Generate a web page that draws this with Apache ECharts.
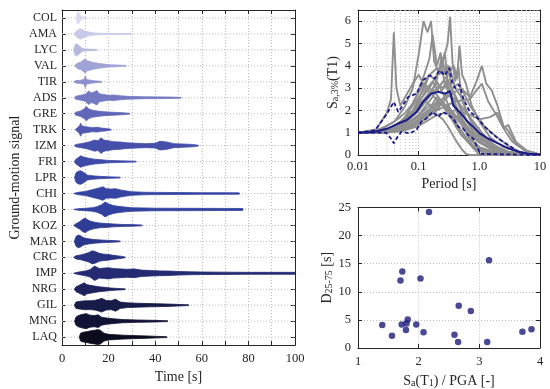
<!DOCTYPE html>
<html><head><meta charset="utf-8">
<script src="https://cdn.jsdelivr.net/npm/echarts@6/dist/echarts.min.js"></script>
<style>html,body{margin:0;padding:0;background:#fff}#c{width:550px;height:389px}</style>
</head><body><div id="c"></div>
<script>
// ---------- data ----------
const signals = ['COL','AMA','LYC','VAL','TIR','ADS','GRE','TRK','IZM','FRI','LPR','CHI','KOB','KOZ','MAR','CRC','IMP','NRG','GIL','MNG','LAQ'];
const signalColors = ['#dadaf0','#c9c9e9','#b6b8e0','#a0a3d6','#8d90cc','#7579c1','#6066b8','#5158b1','#4650ab','#3f4aa8','#3a46a6','#3544a3','#3241a0','#2f3c96','#2b378b','#283280','#242b72','#1e235e','#171b48','#111334','#0b0b1e'];
// amplitude envelopes [time s, relative amplitude]
const envCOL = [[6,0],[6.5,0.6],[7,0.8],[7.5,0.5],[8,0.3],[9,0.1],[10,0.05],[11,0]];
const envAMA = [[5,0],[6,0.3],[7,0.55],[8,0.65],[9,0.5],[10,0.35],[12,0.2],[15,0.1],[20,0.07],[29.5,0.05],[30,0]];
const envLYC = [[5,0],[5.5,0.5],[6,0.78],[7,0.6],[8,0.35],[9,0.15],[11,0.1],[15,0.05],[15.2,0]];
const envVAL = [[5.5,0],[6,0.2],[7,0.4],[8,0.45],[9,0.7],[10,0.86],[11,0.6],[12,0.55],[13,0.45],[14,0.4],[16,0.3],[18,0.22],[20,0.15],[24,0.1],[27.5,0.05],[27.7,0]];
const envTIR = [[5,0],[6,0.15],[8,0.2],[9.5,0.3],[10,0.75],[10.5,0.3],[12,0.2],[14,0.12],[17,0.05],[17.2,0]];
const envADS = [[5.3,0],[6,0.2],[8,0.3],[10,0.45],[11.5,0.85],[12.5,0.6],[14,0.75],[15,0.9],[16,0.5],[18,0.4],[20,0.3],[22,0.35],[25,0.25],[28,0.18],[35,0.12],[45,0.1],[51,0.05],[51.2,0]];
const envGRE = [[5.3,0],[6,0.2],[8,0.35],[9.5,0.6],[10.5,0.9],[11.5,0.6],[13,0.45],[15,0.35],[18,0.25],[22,0.18],[26,0.12],[29,0.05],[29.2,0]];
const envTRK = [[5.7,0],[6.5,0.2],[7.5,0.5],[8,0.82],[8.5,0.5],[9.5,0.4],[11,0.35],[13,0.25],[15,0.3],[17,0.2],[19,0.15],[21,0.05],[21.2,0]];
const envIZM = [[5.3,0],[6,0.15],[8,0.25],[10,0.35],[12,0.5],[14,0.7],[15.5,0.6],[16.7,0.98],[18,0.7],[20,0.6],[22,0.5],[25,0.45],[28,0.35],[32,0.3],[36,0.25],[40,0.3],[42,0.55],[44,0.5],[46,0.4],[48,0.25],[52,0.2],[56,0.15],[58.5,0.05],[58.7,0]];
const envFRI = [[5.3,0],[6,0.3],[7,0.5],[8,0.72],[9,0.6],[10,0.5],[12,0.4],[14,0.3],[16,0.25],[20,0.15],[25,0.1],[31.7,0.05],[31.9,0]];
const envLPR = [[5.4,0],[6,0.6],[7,0.8],[8,0.85],[9,0.7],[10,0.5],[11,0.3],[13,0.22],[16,0.15],[20,0.1],[24.9,0.05],[25.1,0]];
const envCHI = [[5,0],[7,0.15],[10,0.25],[12,0.4],[14,0.55],[16,0.7],[17.5,0.85],[19,0.6],[21,0.55],[23,0.6],[25,0.45],[27,0.35],[30,0.22],[35,0.16],[40,0.14],[50,0.12],[60,0.1],[70,0.1],[76,0.08],[76.3,0]];
const envKOB = [[5,0],[7,0.1],[10,0.15],[13,0.22],[15,0.35],[17,0.6],[18.5,0.94],[20,0.7],[22,0.5],[24,0.4],[27,0.3],[30,0.22],[40,0.16],[50,0.15],[60,0.14],[70,0.13],[77.6,0.12],[77.7,0]];
const envKOZ = [[5,0],[6,0.2],[7.5,0.45],[9,0.8],[10,0.9],[11,0.7],[12,0.55],[14,0.4],[16,0.3],[19,0.25],[22,0.18],[26,0.12],[30,0.1],[34.3,0.05],[34.5,0]];
const envMAR = [[5.3,0],[6,0.6],[7,0.8],[8,0.7],[9,0.5],[10,0.4],[12,0.3],[14,0.22],[18,0.15],[22,0.1],[24.9,0.05],[25.1,0]];
const envCRC = [[5,0],[6,0.2],[8,0.3],[10,0.45],[11.5,0.6],[13,0.82],[14.5,0.7],[16,0.5],[18,0.4],[20,0.35],[22,0.25],[25,0.15],[27,0.05],[27.2,0]];
const envIMP = [[5,0],[7,0.15],[10,0.3],[12,0.45],[14,0.9],[16,0.6],[18,0.65],[20,0.7],[22,0.6],[25,0.55],[28,0.5],[31,0.55],[34,0.4],[38,0.35],[42,0.3],[46,0.28],[50,0.22],[55,0.18],[60,0.16],[70,0.14],[80,0.12],[90,0.12],[100,0.12]];
const envNRG = [[5.3,0],[6,0.3],[7,0.45],[8.5,0.65],[9.5,0.82],[10.5,0.6],[12,0.5],[14,0.4],[16,0.3],[18,0.25],[21,0.15],[24,0.1],[27,0.05],[27.2,0]];
const envGIL = [[5.3,0],[6,0.4],[8,0.5],[10,0.55],[12,0.55],[14,0.6],[16,0.75],[17,0.86],[19,0.6],[21,0.55],[23,0.75],[25,0.4],[28,0.3],[32,0.25],[38,0.2],[45,0.15],[54.3,0.05],[54.5,0]];
const envMNG = [[5.4,0],[6,0.5],[7,0.7],[8,0.8],[9.5,0.9],[10.5,0.94],[12,0.75],[14,0.7],[15.5,0.8],[17,0.5],[19,0.4],[22,0.3],[26,0.2],[32,0.15],[40,0.1],[45.3,0.05],[45.5,0]];
const envLAQ = [[7.4,0],[8,0.5],[9,0.6],[10,0.65],[11,0.7],[12.5,0.8],[14,0.85],[15.3,0.94],[16.5,0.85],[18,0.5],[20,0.35],[23,0.3],[26,0.25],[30,0.2],[36,0.15],[44.9,0.05],[45.1,0]];
const envelopes = [envCOL,envAMA,envLYC,envVAL,envTIR,envADS,envGRE,envTRK,envIZM,envFRI,envLPR,envCHI,envKOB,envKOZ,envMAR,envCRC,envIMP,envNRG,envGIL,envMNG,envLAQ];
const timeLabels = [0,20,40,60,80,100];

// response spectra [period s, Sa]
const sp01 = [[0.01,1],[0.02,1.15],[0.03,1.9],[0.035,2.5],[0.039,5.5],[0.043,3],[0.05,2.2],[0.06,2.6],[0.08,3.2],[0.1,3.6],[0.13,3.0],[0.18,2.6],[0.25,2.2],[0.35,1.6],[0.5,0.9],[0.7,0.5],[1,0.25],[2,0.05],[10,0]];
const sp02 = [[0.01,1],[0.02,1.05],[0.04,1.5],[0.06,2.2],[0.08,3.0],[0.1,4.5],[0.12,6.0],[0.14,5.5],[0.16,6.0],[0.18,4.2],[0.22,3.6],[0.27,4.6],[0.3,3.2],[0.4,2.2],[0.5,1.4],[0.7,0.7],[1,0.3],[2,0.08],[10,0]];
const sp03 = [[0.01,1],[0.03,1.1],[0.05,1.4],[0.08,1.9],[0.1,2.4],[0.15,3.0],[0.2,3.6],[0.25,4.2],[0.3,5.0],[0.33,6.2],[0.36,4.2],[0.4,3.3],[0.45,4.0],[0.5,2.6],[0.7,1.6],[1,1.0],[1.5,0.5],[3,0.15],[10,0]];
const sp04 = [[0.01,1],[0.03,1.1],[0.06,1.6],[0.09,2.6],[0.12,3.5],[0.15,4.3],[0.17,5.4],[0.2,4.0],[0.23,4.6],[0.26,3.4],[0.3,3.0],[0.4,2.2],[0.6,1.2],[0.8,0.6],[1,0.35],[2,0.1],[10,0]];
const sp05 = [[0.01,1],[0.03,1.05],[0.06,1.3],[0.1,1.8],[0.15,2.4],[0.2,2.9],[0.3,3.6],[0.38,4.0],[0.43,3.4],[0.47,4.9],[0.52,3.6],[0.6,3.2],[0.75,2.2],[1,1.5],[1.5,0.8],[2.5,0.35],[5,0.1],[10,0.02]];
const sp06 = [[0.01,1],[0.03,1.05],[0.06,1.2],[0.1,1.5],[0.2,2.1],[0.3,2.6],[0.5,3.0],[0.7,2.6],[0.9,3.3],[1.1,4.0],[1.3,3.2],[1.6,2.9],[2,2.2],[2.5,1.3],[3,1.1],[4,0.5],[6,0.15],[10,0.03]];
const sp07 = [[0.01,1],[0.05,1.1],[0.1,1.4],[0.2,2.0],[0.4,2.4],[0.7,2.5],[0.9,2.9],[1.1,3.2],[1.4,2.4],[2,1.7],[2.5,1.2],[3.5,0.6],[6,0.15],[10,0.03]];
const sp08 = [[0.01,1],[0.05,1.05],[0.1,1.3],[0.2,1.8],[0.4,2.0],[0.7,1.8],[1,1.6],[1.5,1.7],[2,1.9],[2.5,1.2],[3,1.35],[4,0.6],[6,0.2],[10,0.03]];
const sp09 = [[0.01,1],[0.03,1.05],[0.05,1.3],[0.08,1.8],[0.1,2.2],[0.15,2.8],[0.2,3.2],[0.25,3.0],[0.3,3.4],[0.4,2.6],[0.5,2.0],[0.7,1.3],[1,0.8],[1.5,0.4],[2,0.2],[4,0.05],[10,0]];
const sp10 = [[0.01,1],[0.03,1.1],[0.05,1.5],[0.08,2.0],[0.1,2.5],[0.14,3.5],[0.2,3.9],[0.25,3.6],[0.3,4.0],[0.35,3.0],[0.45,2.4],[0.6,1.6],[0.8,1.0],[1,0.6],[2,0.15],[10,0]];
const sp11 = [[0.01,1],[0.03,1.0],[0.05,1.1],[0.08,1.4],[0.12,1.7],[0.18,1.9],[0.25,1.6],[0.3,1.3],[0.4,0.7],[0.5,0.3],[0.6,0.05],[0.7,0],[10,0]];
const sp12 = [[0.01,1],[0.03,1.05],[0.06,1.3],[0.1,1.8],[0.15,2.2],[0.2,2.0],[0.25,2.4],[0.3,2.1],[0.4,1.4],[0.5,1.0],[0.7,0.5],[0.9,0.15],[1.0,0],[10,0]];
const sp13 = [[0.01,1],[0.04,1.2],[0.07,1.7],[0.1,2.3],[0.13,2.9],[0.17,3.3],[0.22,2.8],[0.28,3.1],[0.35,2.5],[0.45,1.8],[0.6,1.2],[0.8,0.8],[1.2,0.45],[2,0.2],[3,0.08],[10,0]];
const sp14 = [[0.01,1],[0.03,1.1],[0.06,1.5],[0.1,2.0],[0.15,2.6],[0.2,3.4],[0.24,4.4],[0.28,3.6],[0.32,4.0],[0.4,3.0],[0.5,2.6],[0.6,2.0],[0.8,1.3],[1,0.9],[1.5,0.4],[3,0.1],[10,0]];
const sp15 = [[0.01,1],[0.03,1.05],[0.05,1.2],[0.07,1.6],[0.1,2.1],[0.13,2.4],[0.16,2.2],[0.2,2.6],[0.25,2.3],[0.35,1.9],[0.5,1.4],[0.7,0.9],[1,0.55],[1.5,0.3],[2,0.15],[5,0.02],[10,0]];
const sp16 = [[0.01,1],[0.02,1.1],[0.03,1.3],[0.045,1.6],[0.06,1.9],[0.08,2.3],[0.1,2.8],[0.12,3.2],[0.15,3.0],[0.2,2.7],[0.3,2.0],[0.45,1.2],[0.6,0.7],[0.8,0.3],[1.2,0.1],[2,0],[10,0]];
const sp17 = [[0.01,1],[0.05,1.1],[0.1,1.5],[0.2,2.2],[0.3,2.8],[0.45,3.2],[0.55,2.8],[0.7,2.2],[0.9,1.8],[1.2,1.3],[1.6,1.0],[2.2,0.7],[3,0.4],[5,0.1],[10,0.02]];
const sp18 = [[0.01,1],[0.03,1.0],[0.06,1.2],[0.1,1.6],[0.15,2.0],[0.2,2.4],[0.3,2.2],[0.4,1.8],[0.55,1.4],[0.7,1.1],[1,0.7],[1.5,0.45],[2,0.3],[3,0.15],[5,0.05],[10,0]];
const sp19 = [[0.01,1],[0.03,1.1],[0.05,1.4],[0.07,2.0],[0.09,2.4],[0.12,2.9],[0.15,3.6],[0.2,3.3],[0.27,2.6],[0.35,1.9],[0.45,1.3],[0.6,0.8],[0.8,0.4],[1,0.2],[1.5,0.05],[10,0]];
const sp20 = [[0.01,1],[0.03,1.05],[0.06,1.3],[0.1,1.7],[0.2,2.3],[0.3,2.7],[0.4,2.5],[0.5,2.2],[0.65,1.8],[0.85,1.4],[1.1,1.0],[1.5,0.6],[2,0.35],[3,0.12],[6,0.02],[10,0]];
const sp21 = [[0.01,1],[0.03,1.05],[0.06,1.4],[0.1,2.0],[0.14,2.6],[0.2,3.0],[0.26,3.3],[0.32,2.9],[0.4,2.3],[0.5,1.7],[0.7,1.1],[1,0.6],[1.5,0.3],[2.5,0.1],[10,0]];
const spectraGray = [sp01,sp02,sp03,sp04,sp05,sp06,sp07,sp08,sp09,sp10,sp11,sp12,sp13,sp14,sp15,sp16,sp17,sp18,sp19,sp20,sp21];
const spectrumMedian = [[0.01,1],[0.019,1.04],[0.031,1.19],[0.046,1.41],[0.063,1.56],[0.092,1.93],[0.118,2.38],[0.16,2.75],[0.21,2.83],[0.27,2.75],[0.33,2.86],[0.37,2.23],[0.47,1.93],[0.61,1.56],[0.79,1.26],[1.02,0.97],[1.39,0.74],[2.03,0.52],[3.0,0.3],[4.4,0.15],[6.4,0.06],[10,0.02]];
const spectrum84 = [[0.01,1],[0.019,1.1],[0.029,1.79],[0.039,2.38],[0.046,1.93],[0.055,2.23],[0.067,2.6],[0.092,2.75],[0.118,3.35],[0.152,3.57],[0.184,3.42],[0.22,3.8],[0.27,3.57],[0.32,3.9],[0.36,3.2],[0.4,3.0],[0.47,3.15],[0.55,2.5],[0.69,1.95],[0.9,1.71],[1.16,1.34],[1.5,1.04],[2.03,0.74],[3.0,0.45],[4.4,0.15],[6.4,0.06],[10,0.02]];
const spectrum16 = [[0.01,1],[0.029,1.0],[0.035,0.74],[0.039,0.52],[0.045,0.82],[0.052,1.04],[0.071,0.97],[0.092,1.12],[0.111,1.49],[0.134,1.64],[0.17,1.93],[0.21,1.71],[0.25,1.93],[0.31,1.79],[0.37,1.64],[0.45,1.26],[0.54,1.19],[0.65,0.89],[0.79,0.74],[0.95,0.3],[1.02,0.05],[1.1,0],[10,0]];
const minorPeriods = [0.02,0.03,0.04,0.05,0.06,0.07,0.08,0.09,0.2,0.3,0.4,0.5,0.6,0.7,0.8,0.9,2,3,4,5,6,7,8,9];
const periodLabels = {0.01:'0.01',0.1:'0.1',1:'1.0',10:'10'};

// scatter: Sa(T1)/PGA vs D25-75
const ratioSaPGA   = [2.17,3.16,1.73,1.70,2.03,2.66,2.86,1.82,1.80,1.72,1.96,1.40,1.79,2.08,1.56,2.59,2.65,3.13,3.71,3.86];
const durationD2575 = [24.2,15.6,13.6,12.0,12.35,7.5,6.6,5.06,4.35,4.2,4.2,4.1,3.2,2.8,2.2,2.35,1.05,1.05,2.9,3.35];

// ---------- styles ----------
const FONT = 'Liberation Serif';
const INK = '#262626';
const GRID_LINE = {color:'#bcbcbc', width:1, type:[1,2]};
const NAVY = '#1b1b8a';

function boxAxis(extra){
  return Object.assign({
    axisLine:{show:true, onZero:false, lineStyle:{color:INK, width:1}},
    axisTick:{show:true, inside:true, length:4, lineStyle:{color:INK}},
    axisLabel:{color:INK, fontFamily:FONT, fontSize:12.5},
    splitLine:{show:true, lineStyle:GRID_LINE},
    nameTextStyle:{color:INK, fontFamily:FONT, fontSize:14}
  }, extra);
}
function mirror(extra){
  return Object.assign(boxAxis(extra), {axisLabel:{show:false}, splitLine:{show:false}, name:''});
}

const chart = echarts.init(document.getElementById('c'), null, {renderer:'canvas'});

const series = [];
// horizontal gridlines at each signal
series.push({
  type:'custom', xAxisIndex:0, yAxisIndex:0, z:1, silent:true,
  data: signals.map((s,i)=>[0,i]), encode:{x:0,y:1},
  renderItem:function(params, api){
    const i = api.value(1);
    const a = api.coord([0,i]), b = api.coord([100,i]);
    return {type:'line', shape:{x1:a[0],y1:a[1],x2:b[0],y2:b[1]}, style:{stroke:'#bcbcbc', lineWidth:1, lineDash:[1,2]}};
  }
});
// waveforms
series.push({
  type:'custom', xAxisIndex:0, yAxisIndex:0, z:3, silent:true, clip:true,
  data: signals.map((s,i)=>[0,i]), encode:{x:0,y:1},
  renderItem:function(params, api){
    const i = api.value(1);
    const env = envelopes[i];
    const half = api.size([0,1])[1]/2;
    const up = [], lo = [];
    env.forEach(function(p){
      const c = api.coord([p[0], i]);
      up.push([c[0], c[1]-p[1]*half]);
      lo.unshift([c[0], c[1]+p[1]*half]);
    });
    return {type:'polygon', shape:{points:up.concat(lo)}, style:{fill:signalColors[i], stroke:signalColors[i], lineWidth:0.8}};
  }
});
// minor log gridlines
series.push({
  type:'custom', xAxisIndex:2, yAxisIndex:2, z:1, silent:true,
  data: minorPeriods.map(p=>[p,0]), encode:{x:0,y:1},
  renderItem:function(params, api){
    const a = api.coord([api.value(0),0]), b = api.coord([api.value(0),6.5]);
    return {type:'line', shape:{x1:a[0],y1:a[1],x2:b[0],y2:b[1]}, style:{stroke:'#c8c8c8', lineWidth:1, lineDash:[1,2]}};
  }
});
spectraGray.forEach(function(s){
  series.push({type:'line', xAxisIndex:2, yAxisIndex:2, data:s, showSymbol:false, symbol:'none', silent:true, z:2,
    lineStyle:{color:'#8f8f8f', width:1.9}});
});
series.push({type:'line', xAxisIndex:2, yAxisIndex:2, data:spectrum84, symbol:'none', silent:true, z:4, lineStyle:{color:NAVY, width:1.8, type:[4,2.5]}});
series.push({type:'line', xAxisIndex:2, yAxisIndex:2, data:spectrum16, symbol:'none', silent:true, z:4, lineStyle:{color:NAVY, width:1.8, type:[4,2.5]}});
series.push({type:'line', xAxisIndex:2, yAxisIndex:2, data:spectrumMedian, symbol:'none', silent:true, z:5, lineStyle:{color:NAVY, width:2}});
series.push({type:'scatter', xAxisIndex:4, yAxisIndex:4, data:ratioSaPGA.map((x,i)=>[x,durationD2575[i]]), symbolSize:6.5, itemStyle:{color:'#1c1c7c'}, z:3});

const subRich = {n:{fontFamily:FONT,fontSize:14,color:INK,lineHeight:18,verticalAlign:'bottom'},s:{fontFamily:FONT,fontSize:10,color:INK,lineHeight:14,verticalAlign:'bottom'}};

const option = {
  animation:false,
  backgroundColor:'#ffffff',
  textStyle:{fontFamily:FONT},
  grid:[
    {left:62, top:10, width:233, height:339},
    {left:358, top:10, width:182, height:145},
    {left:358, top:207.5, width:182, height:141.5}
  ],
  xAxis:[
    boxAxis({type:'value', gridIndex:0, min:0, max:100, interval:10, position:'bottom',
      axisLabel:{color:INK, fontFamily:FONT, fontSize:12.5, margin:7, formatter:v=>timeLabels.indexOf(v)>=0?String(v):''},
      name:'Time [s]', nameLocation:'middle', nameGap:24}),
    mirror({type:'value', gridIndex:0, min:0, max:100, interval:10, position:'top'}),
    boxAxis({type:'log', logBase:10, gridIndex:1, min:0.01, max:10, position:'bottom',
      axisLabel:{color:INK, fontFamily:FONT, fontSize:12.5, margin:5, formatter:v=>periodLabels[v]!==undefined?periodLabels[v]:''},
      name:'Period [s]', nameLocation:'middle', nameGap:22}),
    mirror({type:'log', logBase:10, gridIndex:1, min:0.01, max:10, position:'top'}),
    boxAxis({type:'value', gridIndex:2, min:1, max:4, interval:1, position:'bottom',
      axisLabel:{color:INK, fontFamily:FONT, fontSize:12.5, margin:7},
      name:'{n|S}{s|a}{n|(T}{s|1}{n|) / PGA [-]}', nameLocation:'middle', nameGap:22,
      nameTextStyle:{color:INK, fontFamily:FONT, fontSize:14, rich:subRich}}),
    mirror({type:'value', gridIndex:2, min:1, max:4, interval:1, position:'top'})
  ],
  yAxis:[
    boxAxis({type:'category', gridIndex:0, data:signals, inverse:true, position:'left',
      axisTick:{show:true, inside:true, length:4, alignWithLabel:true, lineStyle:{color:INK}},
      axisLabel:{color:INK, fontFamily:FONT, fontSize:12, margin:5},
      splitLine:{show:false},
      name:'Ground-motion signal', nameLocation:'middle', nameGap:40}),
    Object.assign(mirror({type:'category', gridIndex:0, data:signals, inverse:true, position:'right'}),
      {axisTick:{show:true, inside:true, length:4, alignWithLabel:true, lineStyle:{color:INK}}}),
    boxAxis({type:'value', gridIndex:1, min:0, max:6.5, interval:1, position:'left',
      axisLabel:{color:INK, fontFamily:FONT, fontSize:12.5, margin:7, formatter:v=>(v%1===0?String(v):'')},
      name:'{n|S}{s|a,3%}{n|(T1)}', nameLocation:'middle', nameGap:18,
      nameTextStyle:{color:INK, fontFamily:FONT, fontSize:14, rich:subRich}}),
    mirror({type:'value', gridIndex:1, min:0, max:6.5, interval:1, position:'right'}),
    boxAxis({type:'value', gridIndex:2, min:0, max:25, interval:5, position:'left',
      axisLabel:{color:INK, fontFamily:FONT, fontSize:12.5, margin:7},
      name:'{n|D}{s|25-75}{n| [s]}', nameLocation:'middle', nameGap:24,
      nameTextStyle:{color:INK, fontFamily:FONT, fontSize:14, rich:subRich}}),
    mirror({type:'value', gridIndex:2, min:0, max:25, interval:5, position:'right'})
  ],
  series: series
};
chart.setOption(option);
</script>
</body></html>
